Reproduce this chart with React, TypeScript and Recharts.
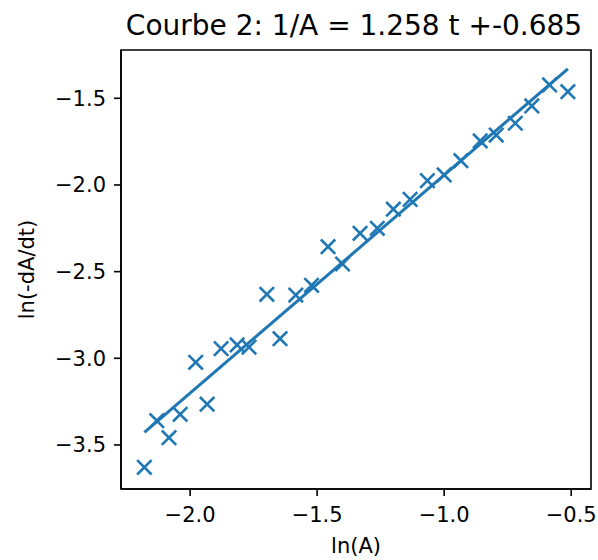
import React from 'react';
import { ScatterChart, Scatter, XAxis, YAxis, ReferenceLine, ReferenceArea, Label } from 'recharts';

const lnA = [
  -2.180, -2.131, -2.083, -2.039, -1.978, -1.933, -1.878, -1.815, -1.768, -1.698,
  -1.646, -1.584, -1.522, -1.457, -1.400, -1.331, -1.263, -1.200, -1.134, -1.066,
  -1.000, -0.934, -0.858, -0.795, -0.720, -0.655, -0.585, -0.513,
];
const lnRate = [
  -3.629, -3.360, -3.458, -3.323, -3.023, -3.265, -2.944, -2.923, -2.935, -2.631,
  -2.887, -2.635, -2.579, -2.356, -2.456, -2.279, -2.250, -2.140, -2.083, -1.975,
  -1.942, -1.860, -1.746, -1.712, -1.644, -1.544, -1.423, -1.462,
];
const slope = 1.258;
const intercept = -0.685;
const xTicks = [-2.0, -1.5, -1.0, -0.5];
const yTicks = [-3.5, -3.0, -2.5, -2.0, -1.5];
const xDomain: [number, number] = [-2.272, -0.422];
const yDomain: [number, number] = [-3.754, -1.2214];

const points = lnA.map((x, i) => ({ x, y: lnRate[i] }));
const xMin = Math.min(...lnA);
const xMax = Math.max(...lnA);
const fitSegment = [
  { x: xMin, y: slope * xMin + intercept },
  { x: xMax, y: slope * xMax + intercept },
];

const BLUE = '#1f77b4';
const FONT = '"DejaVu Sans", sans-serif';
const fmt = (v: number) => (v < 0 ? '\u2212' : '') + Math.abs(v).toFixed(1);

const Cross = (props: any) => {
  const { cx, cy } = props;
  const s = 7.2;
  return (
    <g stroke={BLUE} strokeWidth={2.6} strokeLinecap="butt">
      <line x1={cx - s} y1={cy - s} x2={cx + s} y2={cy + s} />
      <line x1={cx - s} y1={cy + s} x2={cx + s} y2={cy - s} />
    </g>
  );
};

export default function App() {
  return (
    <div style={{ position: 'absolute', left: 0, top: 0, width: 598, height: 560, background: '#fff' }}>
      <div
        style={{
          position: 'absolute',
          left: 0,
          top: 12,
          width: 708,
          textAlign: 'center',
          fontFamily: FONT,
          fontSize: 28,
          lineHeight: '28px',
          color: '#000',
          whiteSpace: 'nowrap',
        }}
      >
        Courbe 2: 1/A = 1.258 t +-0.685
      </div>
      <ScatterChart width={598} height={560} margin={{ top: 50, right: 7, left: 0, bottom: 0 }}>
        <XAxis
          type="number"
          dataKey="x"
          domain={xDomain}
          ticks={xTicks}
          tickFormatter={fmt}
          allowDataOverflow
          height={71}
          tickSize={7}
          tickMargin={11}
          stroke="#000"
          strokeWidth={1.6}
          tick={{ fill: '#000', fontSize: 21, fontFamily: FONT }}
        >
          <Label value="ln(A)" position="insideBottom" offset={7} style={{ fill: '#000', fontSize: 21, fontFamily: FONT }} />
        </XAxis>
        <YAxis
          type="number"
          dataKey="y"
          domain={yDomain}
          ticks={yTicks}
          tickFormatter={fmt}
          allowDataOverflow
          width={121}
          tickSize={7}
          tickMargin={8}
          stroke="#000"
          strokeWidth={1.6}
          tick={{ fill: '#000', fontSize: 21, fontFamily: FONT }}
        >
          <Label
            value="ln(-dA/dt)"
            angle={-90}
            position="insideLeft"
            offset={27}
            style={{ fill: '#000', fontSize: 21, fontFamily: FONT, textAnchor: 'middle' }}
          />
        </YAxis>
        <ReferenceArea
          x1={xDomain[0]}
          x2={xDomain[1]}
          y1={yDomain[0]}
          y2={yDomain[1]}
          fill="none"
          fillOpacity={0}
          stroke="#000"
          strokeWidth={1.6}
          strokeOpacity={1}
        />
        <ReferenceLine segment={fitSegment} stroke={BLUE} strokeWidth={3} />
        <Scatter data={points} shape={<Cross />} isAnimationActive={false} />
      </ScatterChart>
    </div>
  );
}
